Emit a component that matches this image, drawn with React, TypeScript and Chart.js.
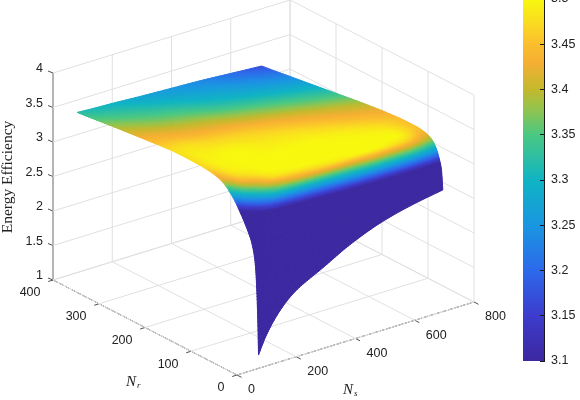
import React, { useEffect, useRef } from "react";
import { Chart, registerables } from "chart.js";

Chart.register(...registerables);

const nsTicks = [0, 200, 400, 600, 800];
const nrTicks = [0, 100, 200, 300, 400];
const zTicks = [1, 1.5, 2, 2.5, 3, 3.5, 4];

const nsLevels = [82, 120, 200, 300, 400, 500, 600, 704];
const nrLevels = [6, 9, 13, 20, 30, 45, 65, 90, 130, 180, 240, 320, 400];

const zAtNs82 = [1.16, 1.95, 2.45, 2.72, 2.89, 3.08, 3.28, 3.42, 3.47, 3.478, 3.445, 3.385, 3.32];
const zAtNs120 = [1.5, 2.25, 2.65, 2.95, 3.1, 3.3, 3.45, 3.49, 3.495, 3.485, 3.44, 3.375, 3.31];
const zAtNs200 = [1.9, 2.5, 2.85, 3.08, 3.38, 3.49, 3.5, 3.5, 3.5, 3.475, 3.425, 3.355, 3.295];
const zAtNs300 = [2.14, 2.65, 2.95, 3.2, 3.46, 3.5, 3.5, 3.5, 3.49, 3.465, 3.41, 3.335, 3.27];
const zAtNs400 = [2.37, 2.78, 3.06, 3.3, 3.49, 3.5, 3.5, 3.5, 3.485, 3.45, 3.39, 3.31, 3.25];
const zAtNs500 = [2.54, 2.88, 3.14, 3.38, 3.5, 3.5, 3.5, 3.495, 3.47, 3.43, 3.37, 3.29, 3.23];
const zAtNs600 = [2.65, 2.96, 3.18, 3.38, 3.48, 3.5, 3.495, 3.48, 3.45, 3.41, 3.35, 3.27, 3.2];
const zAtNs704 = [2.73, 3.02, 3.14, 3.28, 3.38, 3.43, 3.45, 3.45, 3.43, 3.39, 3.33, 3.25, 3.17];
const zTable = [zAtNs82, zAtNs120, zAtNs200, zAtNs300, zAtNs400, zAtNs500, zAtNs600, zAtNs704];

const cbarValues = [3.1, 3.15, 3.2, 3.25, 3.3, 3.35, 3.38, 3.4, 3.43, 3.45, 3.47, 3.5];
const cbarColors: number[][] = [
  [60, 40, 160], [60, 60, 205], [45, 105, 235], [25, 150, 225], [15, 180, 195], [75, 200, 130],
  [150, 195, 75], [195, 185, 45], [245, 175, 50], [250, 190, 45], [250, 215, 35], [248, 248, 15],
];

const REFINE = 14;
const FONT = '"Liberation Sans", Arial, sans-serif';
const SERIF = '"Liberation Serif", serif';
const INK = "#222222";

// Oblique view of the MATLAB 3-D axes, in page pixels.
function project(ns: number, nr: number, z: number) {
  return {
    x: 237 + (ns / 800) * 237 - (nr / 400) * 184,
    y: 375 - (ns / 800) * 73 - (nr / 400) * 95 - (z - 1) * 69,
  };
}

function colorFor(z: number) {
  if (z <= cbarValues[0]) return `rgb(${cbarColors[0].join(",")})`;
  for (let i = 1; i < cbarValues.length; i++) {
    if (z <= cbarValues[i]) {
      const t = (z - cbarValues[i - 1]) / (cbarValues[i] - cbarValues[i - 1]);
      const a = cbarColors[i - 1];
      const b = cbarColors[i];
      return `rgb(${a.map((v, k) => Math.round(v + (b[k] - v) * t)).join(",")})`;
    }
  }
  return `rgb(${cbarColors[cbarColors.length - 1].join(",")})`;
}

// Shape-preserving cubic through the read values (drawing only).
function tangents(xs: number[], ys: number[]) {
  const n = xs.length;
  const h = xs.slice(1).map((x, i) => x - xs[i]);
  const d = h.map((hi, i) => (ys[i + 1] - ys[i]) / hi);
  const m = new Array(n).fill(0);
  m[0] = d[0];
  m[n - 1] = d[n - 2];
  for (let i = 1; i < n - 1; i++) {
    if (d[i - 1] * d[i] <= 0) m[i] = 0;
    else {
      const w1 = 2 * h[i] + h[i - 1];
      const w2 = h[i] + 2 * h[i - 1];
      m[i] = (w1 + w2) / (w1 / d[i - 1] + w2 / d[i]);
    }
  }
  return m;
}

function evalCubic(xs: number[], ys: number[], m: number[], i: number, t: number) {
  const h = xs[i + 1] - xs[i];
  const t2 = t * t;
  const t3 = t2 * t;
  return (
    (2 * t3 - 3 * t2 + 1) * ys[i] +
    (t3 - 2 * t2 + t) * h * m[i] +
    (-2 * t3 + 3 * t2) * ys[i + 1] +
    (t3 - t2) * h * m[i + 1]
  );
}

function buildSurface() {
  const pts: { x: number; y: number; z: number }[] = [];
  const lnNr = nrLevels.map(Math.log);
  const lnNs = nsLevels.map(Math.log);
  const colTan = zTable.map((c) => tangents(lnNr, c));
  const rows = (nrLevels.length - 1) * REFINE + 1;
  const cols = (nsLevels.length - 1) * REFINE + 1;
  for (let r = 0; r < rows; r++) {
    const ri = Math.min(Math.floor(r / REFINE), nrLevels.length - 2);
    const rt = r / REFINE - ri;
    const perNs = zTable.map((c, k) => evalCubic(lnNr, c, colTan[k], ri, rt));
    const rowTan = tangents(lnNs, perNs);
    const nr = Math.exp(lnNr[ri] + (lnNr[ri + 1] - lnNr[ri]) * rt);
    for (let c = 0; c < cols; c++) {
      const ci = Math.min(Math.floor(c / REFINE), nsLevels.length - 2);
      const ct = c / REFINE - ci;
      const z = evalCubic(lnNs, perNs, rowTan, ci, ct);
      const ns = Math.exp(lnNs[ci] + (lnNs[ci + 1] - lnNs[ci]) * ct);
      const p = project(ns, nr, z);
      pts.push({ x: p.x, y: p.y, z });
    }
  }
  return { pts, rows, cols };
}

function line(a: { x: number; y: number }, b: { x: number; y: number }, color: string, width: number, dash: number[] = []) {
  return {
    type: "scatter" as const,
    data: [a, b],
    showLine: true,
    pointRadius: 0,
    borderColor: color,
    borderWidth: width,
    borderDash: dash,
  };
}

function frameDatasets() {
  const out: any[] = [];
  const GRID = "#e0e0e0";
  for (const z of zTicks) {
    out.push(line(project(0, 400, z), project(800, 400, z), GRID, 1));
    out.push(line(project(800, 400, z), project(800, 0, z), GRID, 1));
  }
  for (const ns of nsTicks) {
    out.push(line(project(ns, 0, 1), project(ns, 400, 1), GRID, 1));
    out.push(line(project(ns, 400, 1), project(ns, 400, 4), GRID, 1));
  }
  for (const nr of nrTicks) {
    out.push(line(project(0, nr, 1), project(800, nr, 1), GRID, 1));
    out.push(line(project(800, nr, 1), project(800, nr, 4), GRID, 1));
  }
  out.push(line(project(0, 0, 1), project(800, 0, 1), INK, 1, [5, 1.5]));
  out.push(line(project(0, 0, 1), project(0, 400, 1), INK, 1, [5, 1.5]));
  out.push(line(project(0, 400, 1), project(0, 400, 4), "#111", 1));
  for (const ns of nsTicks) {
    const p = project(ns, 0, 1);
    out.push(line(p, { x: p.x + 4.5, y: p.y + 2.3 }, INK, 0.8));
  }
  for (const nr of nrTicks) {
    const p = project(0, nr, 1);
    out.push(line(p, { x: p.x - 4.8, y: p.y + 1.5 }, INK, 0.8));
  }
  for (const z of zTicks) {
    const p = project(0, 400, z);
    out.push(line(p, { x: p.x - 5, y: p.y - 2 }, INK, 0.8));
  }
  return out;
}

const surfacePlugin = {
  id: "surfaceAndText",
  afterDatasetsDraw(chart: any) {
    const c = chart.ctx as CanvasRenderingContext2D;
    const meta = chart.getDatasetMeta(0);
    const { rows, cols, pts } = chart.options.plugins.surfaceAndText;
    c.save();
    c.lineWidth = 1;
    c.lineJoin = "round";
    for (let r = rows - 2; r >= 0; r--) {
      for (let k = cols - 2; k >= 0; k--) {
        const a = meta.data[r * cols + k];
        const b = meta.data[r * cols + k + 1];
        const d = meta.data[(r + 1) * cols + k + 1];
        const e = meta.data[(r + 1) * cols + k];
        const zm = (pts[r * cols + k].z + pts[r * cols + k + 1].z + pts[(r + 1) * cols + k + 1].z + pts[(r + 1) * cols + k].z) / 4;
        const col = colorFor(zm);
        c.fillStyle = col;
        c.strokeStyle = col;
        c.beginPath();
        c.moveTo(a.x, a.y);
        c.lineTo(b.x, b.y);
        c.lineTo(d.x, d.y);
        c.lineTo(e.x, e.y);
        c.closePath();
        c.fill();
        c.stroke();
      }
    }
    c.fillStyle = INK;
    c.font = `12.5px ${FONT}`;
    c.textBaseline = "middle";
    c.textAlign = "right";
    for (const z of zTicks) {
      const p = project(0, 400, z);
      c.fillText(String(z), p.x - 10, p.y - 4);
    }
    for (const nr of nrTicks) {
      const p = project(0, nr, 1);
      c.fillText(String(nr), p.x - 12.5, p.y + 13);
    }
    c.textAlign = "left";
    for (const ns of nsTicks) {
      const p = project(ns, 0, 1);
      c.fillText(String(ns), p.x + 11, p.y + 15);
    }
    c.font = `italic 15px ${SERIF}`;
    c.fillText("N", 126, 382);
    c.fillText("N", 343, 390);
    c.font = `italic 9px ${SERIF}`;
    c.fillText("r", 137, 386);
    c.fillText("s", 354, 394);
    c.translate(8, 177);
    c.rotate(-Math.PI / 2);
    c.textAlign = "center";
    c.font = `15.5px ${SERIF}`;
    c.fillText("Energy Efficiency", 0, 0);
    c.restore();
  },
};

export default function App() {
  const mainRef = useRef<HTMLCanvasElement>(null);
  const barRef = useRef<HTMLCanvasElement>(null);

  useEffect(() => {
    const { pts, rows, cols } = buildSurface();
    const main = new Chart(mainRef.current!, {
      type: "scatter",
      data: {
        datasets: [
          { label: "Energy Efficiency", data: pts, pointRadius: 0, showLine: false, order: 0 } as any,
          ...frameDatasets(),
        ],
      },
      options: {
        animation: false,
        responsive: false,
        events: [],
        layout: { padding: 0 },
        scales: {
          x: { type: "linear", min: 0, max: 580, display: false },
          y: { type: "linear", min: 0, max: 400, reverse: true, display: false },
        },
        plugins: {
          legend: { display: false },
          tooltip: { enabled: false },
          surfaceAndText: { rows, cols, pts },
        } as any,
      },
      plugins: [surfacePlugin as any],
    });

    const bar = new Chart(barRef.current!, {
      type: "bar",
      data: {
        labels: ["Energy Efficiency"],
        datasets: [
          {
            data: [[cbarValues[0], cbarValues[cbarValues.length - 1]]],
            barPercentage: 1,
            categoryPercentage: 1,
            borderWidth: 0,
            backgroundColor: (ctx: any) => {
              const area = ctx.chart.chartArea;
              if (!area) return "#888";
              const g = ctx.chart.ctx.createLinearGradient(0, area.bottom, 0, area.top);
              const lo = cbarValues[0];
              const hi = cbarValues[cbarValues.length - 1];
              cbarValues.forEach((v, i) => g.addColorStop((v - lo) / (hi - lo), `rgb(${cbarColors[i].join(",")})`));
              return g;
            },
          } as any,
        ],
      },
      options: {
        animation: false,
        responsive: false,
        events: [],
        layout: { padding: { left: 23, top: 19, bottom: 19, right: 0 } },
        scales: {
          x: { display: false },
          y: {
            position: "right",
            min: 3.1,
            max: 3.5,
            afterFit: (s: any) => {
              s.width = 36;
            },
            border: { display: true, color: "#1a1a1a", width: 1, z: 2 },
            grid: { drawOnChartArea: false, drawTicks: true, tickLength: -4, color: "#1a1a1a", lineWidth: 1, z: 2 },
            ticks: {
              stepSize: 0.05,
              padding: 11,
              color: INK,
              z: 2,
              font: { family: FONT, size: 12.5 },
              callback: (v: any) => String(Number(Number(v).toFixed(2))),
            },
          },
        },
        plugins: { legend: { display: false }, tooltip: { enabled: false } },
      } as any,
    });

    return () => {
      main.destroy();
      bar.destroy();
    };
  }, []);

  return (
    <div>
      <canvas ref={mainRef} width={580} height={400} style={{ position: "fixed", left: 0, top: 0 }} />
      <canvas ref={barRef} width={80} height={400} style={{ position: "fixed", left: 500, top: -20 }} />
    </div>
  );
}
